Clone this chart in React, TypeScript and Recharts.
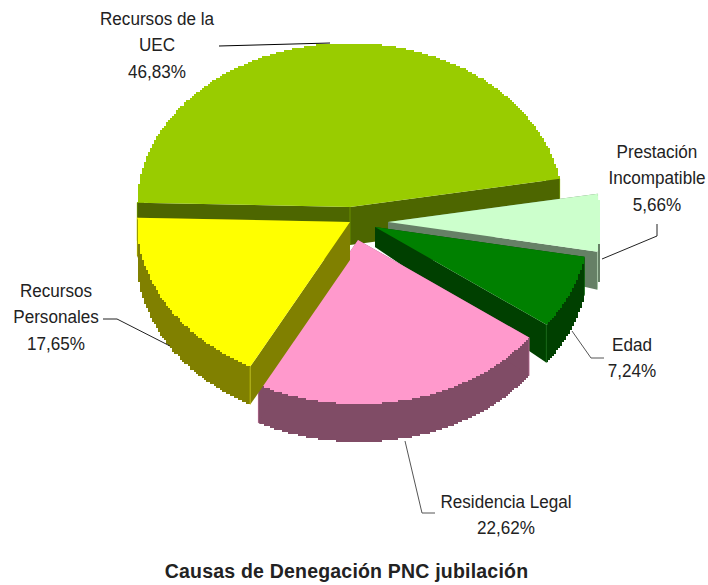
import { PieChart, Pie } from 'recharts'

const categories = ['UEC', 'Prestacion', 'Edad', 'Residencia', 'Personales']
const values = [46.83, 5.66, 7.24, 22.62, 17.65]
const labelLines = [
  ['Recursos de la', 'UEC', '46,83%'],
  ['Prestación', 'Incompatible', '5,66%'],
  ['Edad', '7,24%'],
  ['Residencia Legal', '22,62%'],
  ['Recursos', 'Personales', '17,65%'],
]

const topColors = ['#99CC00', '#CCFFCC', '#008000', '#FF99CC', '#FFFF00']
const wallColors = ['#4D6600', '#668066', '#004000', '#804C66', '#808000']

// how far each slice is pulled out of the pie
const explode = [
  [0, 0],
  [38, 15],
  [25, 20],
  [8, 33],
  [0, 15],
]
const apexDepth = [38, 20, 20, 20, 38]
const RIM_DEPTH = 38
const SQUASH = 164 / 213
const STEP = 2

const labelPos = [
  { x: 157, y: 25 },
  { x: 657, y: 158 },
  { x: 632, y: 351 },
  { x: 506, y: 508 },
  { x: 56, y: 297 },
]
const leaders = [
  '219,46 330,43',
  '657,224 657,236 602,259',
  '572,331 591,358 604,358',
  '405,441 422,513 435,513',
  '103,319 117,319 170,346',
]
const leaderColors = ['#000000', '#222222', '#555555', '#555555', '#222222']

const FONT = '"Liberation Sans", Arial, sans-serif'

type Pt = [number, number]

const onRim = (cx: number, cy: number, rx: number, deg: number): Pt => {
  const t = (deg * Math.PI) / 180
  return [cx + rx * Math.cos(t), cy - rx * SQUASH * Math.sin(t)]
}

// the original has a stepped, low-res rim, so snap the arc to a small grid
const steppedRim = (cx: number, cy: number, rx: number, a0: number, a1: number): Pt[] => {
  const n = Math.ceil(Math.abs(a1 - a0) * 2)
  const pts: Pt[] = [onRim(cx, cy, rx, a0)]
  for (let i = 1; i < n; i++) {
    const [x, y] = onRim(cx, cy, rx, a0 + ((a1 - a0) * i) / n)
    const sx = Math.round(x / STEP) * STEP
    const sy = Math.round(y / STEP) * STEP
    const last = pts[pts.length - 1]
    if (sx !== last[0] || sy !== last[1]) {
      pts.push([last[0], sy])
      pts.push([sx, sy])
    }
  }
  pts.push(onRim(cx, cy, rx, a1))
  return pts
}

const toPath = (pts: Pt[]) => 'M' + pts.map((p) => `${p[0]},${p[1]}`).join('L') + 'Z'

function Slice3D(props: any) {
  const { cx, cy, outerRadius, startAngle, endAngle, name } = props
  const i = categories.indexOf(name ?? props.payload?.name)
  const ax = cx + explode[i][0]
  const ay = cy + explode[i][1]
  const rim = steppedRim(ax, ay, outerRadius, startAngle, endAngle)
  const first = rim[0]
  const last = rim[rim.length - 1]
  const drop = (p: Pt): Pt => [p[0], p[1] + RIM_DEPTH]
  const apex: Pt = [ax, ay]
  const apexLow: Pt = [ax, ay + apexDepth[i]]
  const wall = wallColors[i]
  const seam = { stroke: topColors[i], strokeOpacity: 0.4, strokeWidth: 1 }
  return (
    <g>
      <path d={toPath([...rim, ...rim.map(drop).reverse()])} fill={wall} />
      <path d={toPath([apex, first, drop(first), apexLow])} fill={wall} />
      <path d={toPath([apex, last, drop(last), apexLow])} fill={wall} />
      <line x1={first[0]} y1={first[1]} x2={first[0]} y2={first[1] + RIM_DEPTH} {...seam} />
      <line x1={last[0]} y1={last[1]} x2={last[0]} y2={last[1] + RIM_DEPTH} {...seam} />
      {i === 0 && <line x1={ax} y1={ay} x2={ax} y2={ay + apexDepth[i]} {...seam} />}
      <path d={toPath([apex, ...rim])} fill={topColors[i]} />
    </g>
  )
}

function SliceLabel(props: any) {
  const i = props.index
  const pos = labelPos[i]
  return (
    <g>
      <polyline points={leaders[i]} fill="none" stroke={leaderColors[i]} strokeWidth={1} />
      {/* the labels in the reference are a bit condensed */}
      <text
        transform={`translate(${pos.x} ${pos.y}) scale(0.925 1)`}
        textAnchor="middle"
        fontFamily={FONT}
        fontSize={18.5}
        fill="#222222"
      >
        {labelLines[i].map((line, k) => (
          <tspan key={line} x={0} dy={k === 0 ? 0 : 26.5}>
            {line}
          </tspan>
        ))}
      </text>
    </g>
  )
}

const data = categories.map((name, i) => ({ name, value: values[i] }))

export default function App() {
  return (
    <div style={{ position: 'absolute', left: 0, top: 0, width: 708, height: 585, background: '#fff' }}>
      <PieChart width={708} height={585} margin={{ top: 0, right: 0, bottom: 0, left: 0 }}>
        <Pie
          data={data}
          dataKey="value"
          nameKey="name"
          cx={350}
          cy={207}
          innerRadius={0}
          outerRadius={213}
          startAngle={178.5}
          endAngle={-181.5}
          paddingAngle={0}
          stroke="none"
          shape={Slice3D}
          label={SliceLabel}
          labelLine={false}
          isAnimationActive={false}
        />
        <text
          x={346.5}
          y={578}
          textAnchor="middle"
          fontFamily={FONT}
          fontSize={19.5}
          letterSpacing={0.2}
          fontWeight="bold"
          fill="#222222"
        >
          Causas de Denegación PNC jubilación
        </text>
      </PieChart>
    </div>
  )
}
